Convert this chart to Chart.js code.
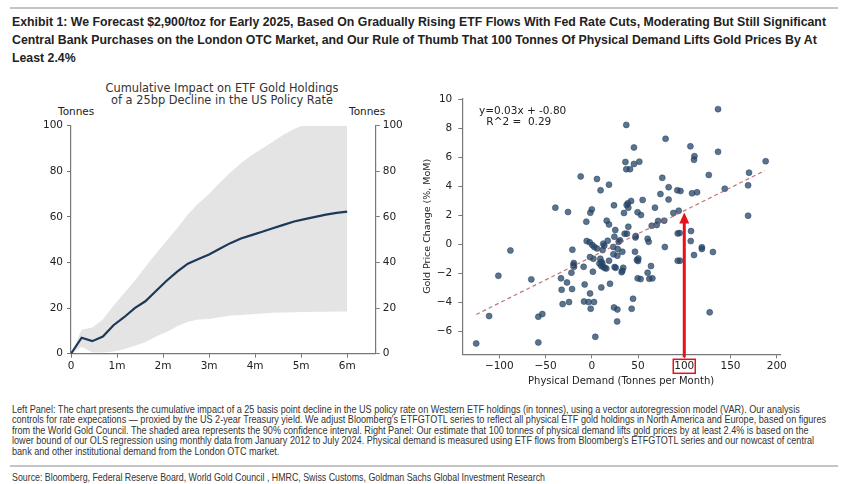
<!DOCTYPE html>
<html>
<head>
<meta charset="utf-8">
<script src="https://cdn.jsdelivr.net/npm/chart.js@4.4.0/dist/chart.umd.min.js"></script>
<style>
  body { margin: 0; width: 848px; height: 484px; background: #fff; position: relative; overflow: hidden; font-family: "DejaVu Sans", sans-serif; }
  .rule { position: absolute; left: 10px; width: 828px; height: 2px; background: #c4c4c4; }
  .narrow { font-family: "Liberation Sans", Arial, sans-serif; white-space: nowrap; position: absolute; left: 12px; transform-origin: 0 0; }
  #title { top: 13px; font-weight: bold; font-size: 13.5px; line-height: 18px; color: #222; }
  #notes { top: 405px; font-size: 10.2px; line-height: 10.4px; color: #333; }
  #source { top: 471px; font-size: 10.5px; line-height: 12px; color: #333; }
  .lbl { position: absolute; font-size: 10.5px; color: #222; white-space: pre; line-height: 12px; }
  #leftTitle { position: absolute; left: 22px; width: 400px; top: 82px; text-align: center; font-size: 11.4px; line-height: 12px; color: #333; }
  canvas { position: absolute; }
</style>
</head>
<body>
<div class="rule" style="top:7px"></div>
<div id="title" class="narrow">Exhibit 1: We Forecast $2,900/toz for Early 2025, Based On Gradually Rising ETF Flows With Fed Rate Cuts, Moderating But Still Significant<br>Central Bank Purchases on the London OTC Market, and Our Rule of Thumb That 100 Tonnes Of Physical Demand Lifts Gold Prices By At<br>Least 2.4%</div>

<div id="leftTitle">Cumulative Impact on ETF Gold Holdings<br>of a 25bp Decline in the US Policy Rate</div>
<div class="lbl" style="left:58px;top:105px">Tonnes</div>
<div class="lbl" style="left:349px;top:105px">Tonnes</div>
<canvas id="left" width="420" height="320" style="left:0;top:75px"></canvas>

<canvas id="right" width="400" height="305" style="left:410px;top:85px"></canvas>
<div class="lbl" style="left:479px;top:104px">y=0.03x + -0.80</div>
<div class="lbl" style="left:483px;top:115px"> R^2 =  0.29</div>

<div id="notes" class="narrow">Left Panel: The chart presents the cumulative impact of a 25 basis point decline in the US policy rate on Western ETF holdings (in tonnes), using a vector autoregression model (VAR). Our analysis<br>controls for rate expecations — proxied by the US 2-year Treasury yield. We adjust Bloomberg's ETFGTOTL series to reflect all physical ETF gold holdings in North America and Europe, based on figures<br>from the World Gold Council. The shaded area represents the 90% confidence interval. Right Panel: Our estimate that 100 tonnes of physical demand lifts gold prices by at least 2.4% is based on the<br>lower bound of our OLS regression using monthly data from January 2012 to July 2024. Physical demand is measured using ETF flows from Bloomberg's ETFGTOTL series and our nowcast of central<br>bank and other institutional demand from the London OTC market.</div>
<div class="rule" style="top:465px"></div>
<div id="source" class="narrow">Source: Bloomberg, Federal Reserve Board, World Gold Council , HMRC, Swiss Customs, Goldman Sachs Global Investment Research</div>

<script>
// ---- left panel: weekly impulse response, 0..26 weeks = 0..6 months
const weeks = [0, 1, 2, 3, 4, 5, 6, 7, 8, 9, 10, 11, 12, 13, 14, 15, 16, 17, 18, 19, 20, 21, 22, 23, 24, 25, 26];
const impact = [0, 7, 5.5, 7.5, 12.5, 16, 20, 23, 27.5, 32, 36, 39.5, 41.5, 43.5, 46, 48.5, 50.5, 52, 53.5, 55, 56.5, 58, 59, 60, 61, 61.8, 62.3];
const upperBand = [0, 10.5, 11.5, 15, 21, 26.5, 32, 38, 44, 49.5, 55, 61, 66, 70, 75, 79.5, 83.5, 87, 90, 93, 96, 98.5, 100.5, 102, 104, 105.5, 107];
const lowerBand = [0, 3, 0.5, 0.5, 1, 2, 3.5, 5, 7.5, 9.5, 12, 14, 15, 15.2, 16, 16.7, 17, 17.3, 17.6, 18, 18.1, 18.2, 18.3, 18.4, 18.4, 18.5, 18.5];
const monthTicks = [0, 1, 2, 3, 4, 5, 6];
const tonneTicks = [0, 20, 40, 60, 80, 100];

// ---- right panel: monthly physical demand (t) vs gold price change (%)
const demand = [136.5, 37.3, 79.8, 106.6, 45.6, 136.5, 111, 110.5, 188, 36.4, 51.4, 45.6, 37.3, 41.3, 170, 126.5, -12, 5.6, 76.2, 18.6,
  169, 83.1, 143.8, 9.5, 92.5, 95.9, 108.4, 113.8, 74.2, 83, 55, 42.5, 39, 37.7, 39.5, 24, 68.3, -39.4, -25.7, 0,
  -1.6, 49.5, 53.2, 34.8, 88.2, 94, 169, -5.9, 16.1, 18.6, 78.3, 71.7, 70.2, 64.8, 39.5, 25.4, 95, 92.9, 107.3, 35.5,
  38, 24.4, 47.5, 47.2, 60.4, 61.5, -5.5, -2.3, 17.2, 30.5, 29.1, 107, 0.6, 2.7, 5.6, 12.4, 13.5, 11.7, 23.2, 28,
  79, 119, 119, 110.5, 131, -21, -88, 33, 46.7, 23.4, 27.7, -1.9, 1.7, 50.3, 50, 48.8, 9.2, 10.6, 18.6, 92.9,
  95.4, -19.5, -19.8, -19.2, -8.8, 10.3, 12.4, 14.2, 15.7, 8.2, 11.4, 24.7, 25.8, 34, 33, 32.3, 60.4, 64, -22, 1.2,
  -101, -65.4, -33.3, 49.6, 52.8, 62.2, 65.5, -26.8, 19.7, -21.3, 10.3, -32.6, -7.7, -1.9, 44.6, -24.6, -31.5, -8.4, -3.4, 2.4,
  -1.2, 24, 27.7, 43.1, 127.5, -111, -53.5, -57.8, 27.4, 3.8, -57.8, -125];
const priceChange = [9.35, 8.26, 7.3, 6.78, 6.7, 6.4, 6.1, 5.85, 5.75, 5.7, 5.72, 5.56, 5.2, 5.2, 4.96, 4.8, 4.7, 4.52, 4.6, 4.13,
  4.08, 3.95, 3.85, 3.74, 3.74, 3.69, 3.53, 3.6, 3.48, 3.1, 3.07, 3.0, 2.84, 2.72, 2.54, 2.7, 2.54, 2.54, 2.24, 2.42,
  2.19, 2.22, 2.03, 2.17, 2.17, 2.33, 1.98, 1.57, 1.64, 1.38, 1.64, 1.62, 1.34, 1.29, 1.22, 0.99, 0.78, 0.76, 0.92, 0.74,
  0.74, 0.53, 0.58, 0.48, 0.39, 0.18, 0.23, 0.14, 0.25, 0.28, 0.18, 0.23, -0.05, -0.18, -0.28, 0.05, -0.09, -0.39, -0.18, -0.32,
  -0.18, -0.2, -0.32, -0.74, -0.53, -0.37, -0.42, -0.51, -0.51, -0.69, -0.78, -0.88, -0.99, -0.97, -1.15, -1.08, -0.99, -1.22, -1.13, -1.13,
  -1.13, -1.29, -1.43, -1.55, -1.55, -1.5, -1.55, -1.64, -1.66, -1.32, -1.32, -1.57, -1.62, -1.62, -1.82, -1.92, -1.96, -1.5, -1.96, -1.89,
  -2.17, -2.42, -2.35, -2.35, -2.4, -2.38, -2.35, -2.63, -2.72, -3.09, -2.98, -3.14, -2.77, -3.39, -3.76, -3.99, -4.13, -3.95, -3.99, -3.99,
  -4.45, -4.36, -4.5, -4.45, -4.7, -4.96, -4.82, -5.0, -5.33, -6.39, -6.78, -6.85];
const fitLineX = [-125, 187];
const fitLineY = [-4.85, 5.1];
const demandTicks = [-100, -50, 0, 50, 100, 150, 200];
const priceTicks = [-6, -4, -2, 0, 2, 4, 6, 8, 10];
const arrowX = 100;
const arrowTipY = 2.2;

// squeeze the report text into a condensed look (no narrow font installed)
function fitWidth(id, target) {
    const el = document.getElementById(id);
    const w = el.getBoundingClientRect().width;
    el.style.transform = 'scaleX(' + (target / w) + ')';
}
fitWidth('title', 814);
fitWidth('notes', 814);
fitWidth('source', 533);

Chart.defaults.font.family = '"DejaVu Sans", sans-serif';
Chart.defaults.animation = false;

const tickFont = { size: 10.5 };
const spine = { color: '#777', width: 1.2 };
const minus = v => (v < 0 ? '\u2212' : '') + Math.abs(v);
const perWeek = 26 / 6;

// shared bits for matplotlib-ish axes
function axisGrid() {
    return { drawOnChartArea: false, drawTicks: true, tickLength: 4, color: '#777', lineWidth: 1 };
}

new Chart(document.getElementById('left'), {
    type: 'line',
    data: {
        datasets: [
            {
                data: weeks.map((w, i) => ({ x: w / perWeek, y: impact[i] })),
                borderColor: '#1c3957',
                borderWidth: 2.2,
                pointRadius: 0,
                tension: 0,
                fill: false
            },
            {
                data: weeks.map((w, i) => ({ x: w / perWeek, y: upperBand[i] })),
                borderWidth: 0,
                pointRadius: 0,
                backgroundColor: '#e4e4e4',
                fill: '+1'
            },
            {
                data: weeks.map((w, i) => ({ x: w / perWeek, y: lowerBand[i] })),
                borderWidth: 0,
                pointRadius: 0,
                fill: false
            }
        ]
    },
    options: {
        responsive: false,
        layout: { padding: { top: 50.7, left: 0, right: 0, bottom: 0 } },
        plugins: { legend: { display: false }, tooltip: { enabled: false } },
        scales: {
            x: {
                type: 'linear', min: 0, max: 6.62,
                afterBuildTicks: s => { s.ticks = monthTicks.map(v => ({ value: v })); },
                afterFit: s => { s.height = 41.3; },
                grid: axisGrid(),
                border: spine,
                ticks: { color: '#222', font: tickFont, padding: 2, maxRotation: 0, autoSkip: false,
                         callback: v => v === 0 ? '0' : v + 'm' }
            },
            y: {
                min: 0, max: 100,
                afterBuildTicks: s => { s.ticks = tonneTicks.map(v => ({ value: v })); },
                afterFit: s => { s.width = 71; },
                grid: axisGrid(),
                border: spine,
                ticks: { color: '#222', font: tickFont, padding: 4 }
            },
            y2: {
                position: 'right', min: 0, max: 100,
                afterBuildTicks: s => { s.ticks = tonneTicks.map(v => ({ value: v })); },
                afterFit: s => { s.width = 44.3; },
                grid: axisGrid(),
                border: spine,
                ticks: { color: '#222', font: tickFont, padding: 3 }
            }
        }
    }
});

// red arrow + box round the 100 tick
const arrowPlugin = {
    id: 'arrow',
    afterDraw(chart) {
        const { ctx, chartArea } = chart;
        const px = chart.scales.x.getPixelForValue(arrowX);
        const tip = chart.scales.y.getPixelForValue(arrowTipY);
        const base = chartArea.bottom + 3;
        ctx.save();
        ctx.strokeStyle = '#e3121b';
        ctx.fillStyle = '#e3121b';
        ctx.lineWidth = 3;
        ctx.beginPath();
        ctx.moveTo(px, base);
        ctx.lineTo(px, tip + 8);
        ctx.stroke();
        ctx.beginPath();
        ctx.moveTo(px, tip);
        ctx.lineTo(px - 5, tip + 11);
        ctx.lineTo(px + 5, tip + 11);
        ctx.closePath();
        ctx.fill();
        ctx.lineWidth = 1.5;
        ctx.strokeRect(px - 11, chartArea.bottom + 5, 22, 14);
        ctx.restore();
    }
};

new Chart(document.getElementById('right'), {
    type: 'scatter',
    data: {
        datasets: [
            {
                type: 'line',
                data: fitLineX.map((x, i) => ({ x: x, y: fitLineY[i] })),
                borderColor: 'rgba(176, 96, 96, 0.85)',
                borderWidth: 1.2,
                borderDash: [4, 3],
                pointRadius: 0,
                fill: false
            },
            {
                data: demand.map((x, i) => ({ x: x, y: priceChange[i] })),
                backgroundColor: 'rgba(38, 68, 102, 0.75)',
                borderColor: 'rgba(38, 68, 102, 0.85)',
                borderWidth: 0.6,
                pointRadius: 3
            }
        ]
    },
    options: {
        responsive: false,
        layout: { padding: { top: 13.3, left: 0, right: 30, bottom: 0 } },
        plugins: { legend: { display: false }, tooltip: { enabled: false } },
        scales: {
            x: {
                type: 'linear', min: -140, max: 203.5,
                afterBuildTicks: s => { s.ticks = demandTicks.map(v => ({ value: v })); },
                afterFit: s => { s.height = 35.7; },
                grid: axisGrid(),
                border: spine,
                ticks: { color: '#222', font: tickFont, padding: 2, maxRotation: 0, autoSkip: false, callback: minus },
                title: { display: true, text: 'Physical Demand (Tonnes per Month)', color: '#222',
                         font: { size: 10 }, padding: { top: 0, bottom: 3 } }
            },
            y: {
                type: 'linear', min: -7.6, max: 10.1,
                afterBuildTicks: s => { s.ticks = priceTicks.map(v => ({ value: v })); },
                afterFit: s => { s.width = 52.3; },
                grid: axisGrid(),
                border: spine,
                ticks: { color: '#222', font: tickFont, padding: 6, callback: minus },
                title: { display: true, text: 'Gold Price Change (%, MoM)', color: '#222',
                         font: { size: 9.5 }, padding: { top: 12, bottom: 0 } }
            }
        }
    },
    plugins: [arrowPlugin]
});
</script>
</body>
</html>
